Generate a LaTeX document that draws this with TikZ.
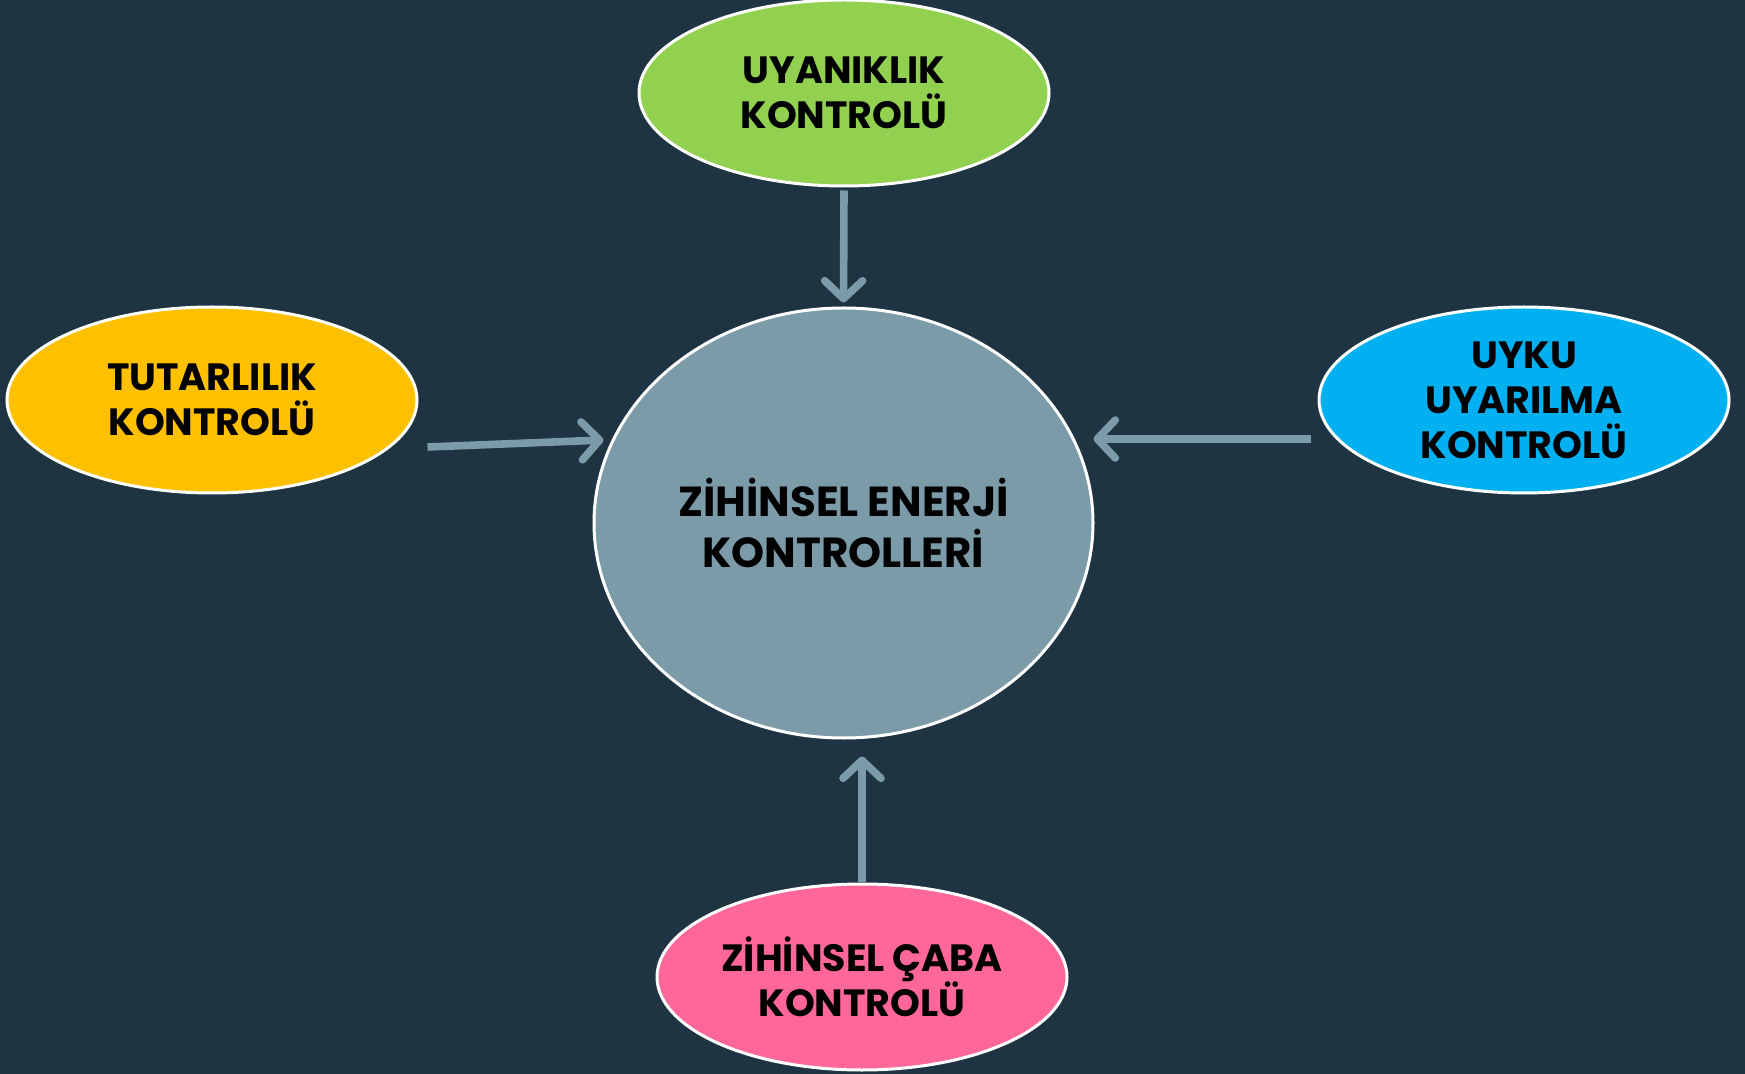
\documentclass[tikz,border=0pt]{standalone}
\usepackage{fontspec}
\setmainfont{Poppins}[BoldFont={* Bold}]
\usetikzlibrary{shapes.geometric, arrows.meta, calc}

\definecolor{bgblue}{HTML}{1F3442}
\definecolor{hubgray}{HTML}{7A9BA7}
\definecolor{lgreen}{HTML}{92D050}
\definecolor{gold}{HTML}{FFC000}
\definecolor{skyblue}{HTML}{00B0F0}
\definecolor{rose}{HTML}{FF6699}

\tikzset{
  bubble/.style={ellipse, draw=white, line width=1.5pt, inner sep=0pt,
    minimum width=205pt, minimum height=93pt, align=center,
    font=\bfseries\fontsize{19}{22.5}\selectfont, text=black},
  conn/.style={draw=hubgray, line width=3.8pt,
    -{Straight Barb[length=9pt, width=19pt, line cap=round, line join=round]}},
}

\begin{document}
\begin{tikzpicture}[x=0.5pt,y=-0.5pt]
  \fill[bgblue] (0,0) rectangle (1745,1074);
  \useasboundingbox (0,0) rectangle (1745,1074);

  \node[ellipse, draw=white, line width=1.5pt, fill=hubgray, inner sep=0pt,
        minimum width=249.5pt, minimum height=215pt, align=center,
        font=\bfseries\fontsize{21}{25.5}\selectfont]
        (ctr) at (843.5,523) {ZİHİNSEL ENERJİ\\KONTROLLERİ};

  \node[bubble, fill=lgreen]  (uya) at (844,93)   {UYANIKLIK\\KONTROLÜ};
  \node[bubble, fill=gold]    (tut) at (212,400)  {TUTARLILIK\\KONTROLÜ};
  \node[bubble, fill=skyblue] (uyk) at (1524,400) {UYKU\\UYARILMA\\KONTROLÜ};
  \node[bubble, fill=rose]    (zih) at (862,977)  {ZİHİNSEL ÇABA\\KONTROLÜ};

  \draw[conn] ($(uya.south)+(0,3)$) -- ($(ctr.north)+(0,-4)$);
  \draw[conn] ($(tut.east)+(9,47)$) -- ($(ctr.west)+(11,-83)$);
  \draw[conn] ($(uyk.west)+(-7,39)$) -- ($(ctr.east)+(-1,-84)$);
  \draw[conn] ($(zih.north)+(0,-1)$) -- (zih.north |- {$(ctr.south)+(0,17)$});
\end{tikzpicture}
\end{document}
